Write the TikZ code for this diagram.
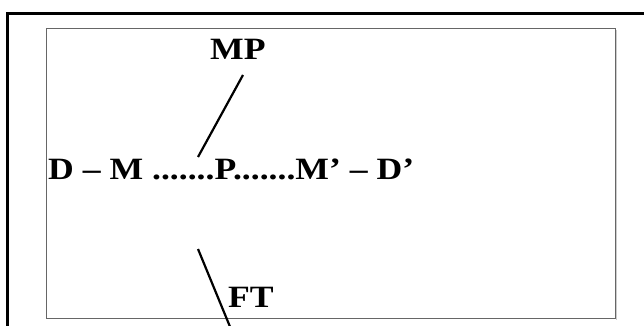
\documentclass[tikz,border=0pt]{standalone}
\usepackage{fontspec}
\setmainfont{Liberation Serif}
\newcommand{\wide}[1]{\scalebox{1.15}[1]{#1}}
\begin{document}
\begin{tikzpicture}[x=1pt,y=-1pt,
  lbl/.style={inner sep=0pt, font=\fontsize{31}{31}\selectfont\bfseries},
  conn/.style={line width=2.2pt},
  outerframe/.style={line width=2.5pt},
  innerframe/.style={draw=black!60, line width=1pt}]
\useasboundingbox (0,0) rectangle (644,326);
\fill[white] (0,0) rectangle (644,326);
% outer frame
\draw[outerframe] (7.5,340) -- (7.5,13.5) -- (660,13.5);
% shadow and inner box
\draw[black!20, line width=1pt] (616.5,30.5) -- (616.5,320);
\draw[innerframe] (46.5,29) rectangle (615,318.5);
% texts
\node[lbl, anchor=base west] (main) at (48,179) {\wide{D -- M .......P.......M’ -- D’}};
\node[lbl, anchor=base west] (mp) at (210,59.5) {\wide{MP}};
\node[lbl, anchor=base west] (ft) at (228,307) {\wide{FT}};
% connector ends
\coordinate (mptop) at (243,75);
\coordinate (mpbot) at (198,157);
\coordinate (fttop) at (198,249);
\coordinate (ftbot) at (233,334);
\draw[conn] (mptop) -- (mpbot);
\draw[conn] (fttop) -- (ftbot);
\end{tikzpicture}
\end{document}
